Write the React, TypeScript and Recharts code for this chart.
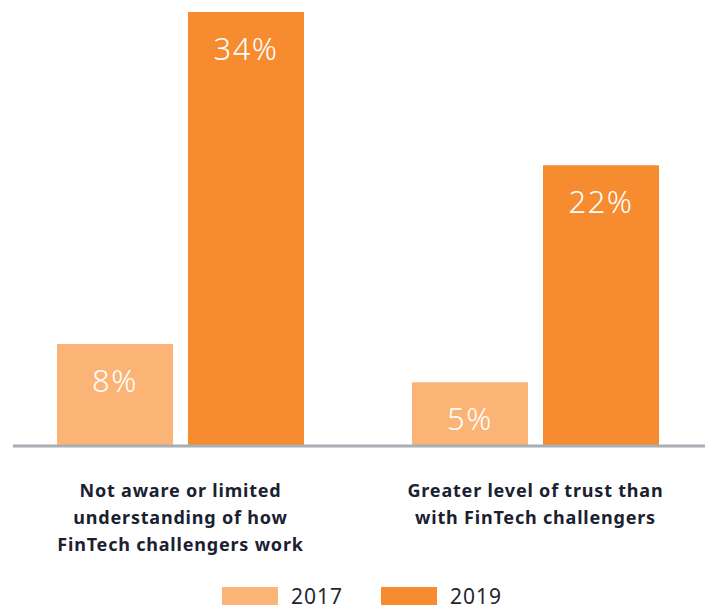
import React from "react";
import { BarChart, Bar, XAxis, YAxis, Legend, LabelList } from "recharts";

const categories = ["Not aware or limited understanding of how FinTech challengers work", "Greater level of trust than with FinTech challengers"];
const categoryLines = [
  ["Not aware or limited", "understanding of how", "FinTech challengers work"],
  ["Greater level of trust than", "with FinTech challengers"],
];
const values2017 = [8, 5];
const values2019 = [34, 22];
const seriesNames = ["2017", "2019"];
const colors = ["#fbb476", "#f68b2f"];

const data = categories.map((c, i) => ({ name: c, idx: i, s2017: values2017[i], s2019: values2019[i] }));

const Tick = (props: any) => {
  const { x, y, payload } = props;
  const lines = categoryLines[payload.index] || [];
  return (
    <text x={x} y={y} textAnchor="middle" fill="#1a2130" fontSize={18} fontWeight={700} letterSpacing={0.8} fontFamily="'Noto Sans', sans-serif">
      {lines.map((l, i) => (
        <tspan key={i} x={x} y={y + 43 + i * 27}>{l}</tspan>
      ))}
    </text>
  );
};

const ValueLabel = (props: any) => {
  const { x, y, width, value } = props;
  return (
    <text x={x + width / 2} y={y + 36} textAnchor="middle" dominantBaseline="central" fill="#ffffff" fontSize={31} fontWeight={300} letterSpacing={1.5} fontFamily="'Noto Sans', sans-serif">
      {value}%
    </text>
  );
};

const LegendContent = () => (
  <div style={{ display: "flex", alignItems: "center", paddingLeft: 222, paddingTop: 14, height: 26, fontFamily: "'Noto Sans', sans-serif" }}>
    {seriesNames.map((n, i) => (
      <div key={n} style={{ display: "flex", alignItems: "center", marginRight: 38 }}>
        <div style={{ width: 56, height: 18, background: colors[i], marginRight: 13 }} />
        <span style={{ fontSize: 21, letterSpacing: 1, color: "#1f2633", lineHeight: "18px" }}>{n}</span>
      </div>
    ))}
  </div>
);

export default function App() {
  return (
    <div style={{ position: "absolute", left: 0, top: 0, width: 705, height: 609, overflow: "hidden", background: "#fff" }}>
      <BarChart width={705} height={609} data={data} margin={{ top: 12, right: 0, left: 13, bottom: 0 }} barSize={116} barGap={15}>
        <YAxis hide domain={[0, 34]} />
        <XAxis
          dataKey="name"
          axisLine={{ stroke: "#a8aeb4", strokeWidth: 3 }}
          tickLine={false}
          tick={<Tick />}
          interval={0}
          height={123}
          padding={{ left: -10, right: -8 }}
        />
        <Legend verticalAlign="bottom" height={40} content={<LegendContent />} wrapperStyle={{ left: 0, width: 705 }} />
        <Bar dataKey="s2017" name="2017" fill={colors[0]} isAnimationActive={false}>
          <LabelList dataKey="s2017" content={<ValueLabel />} />
        </Bar>
        <Bar dataKey="s2019" name="2019" fill={colors[1]} isAnimationActive={false}>
          <LabelList dataKey="s2019" content={<ValueLabel />} />
        </Bar>
      </BarChart>
    </div>
  );
}
